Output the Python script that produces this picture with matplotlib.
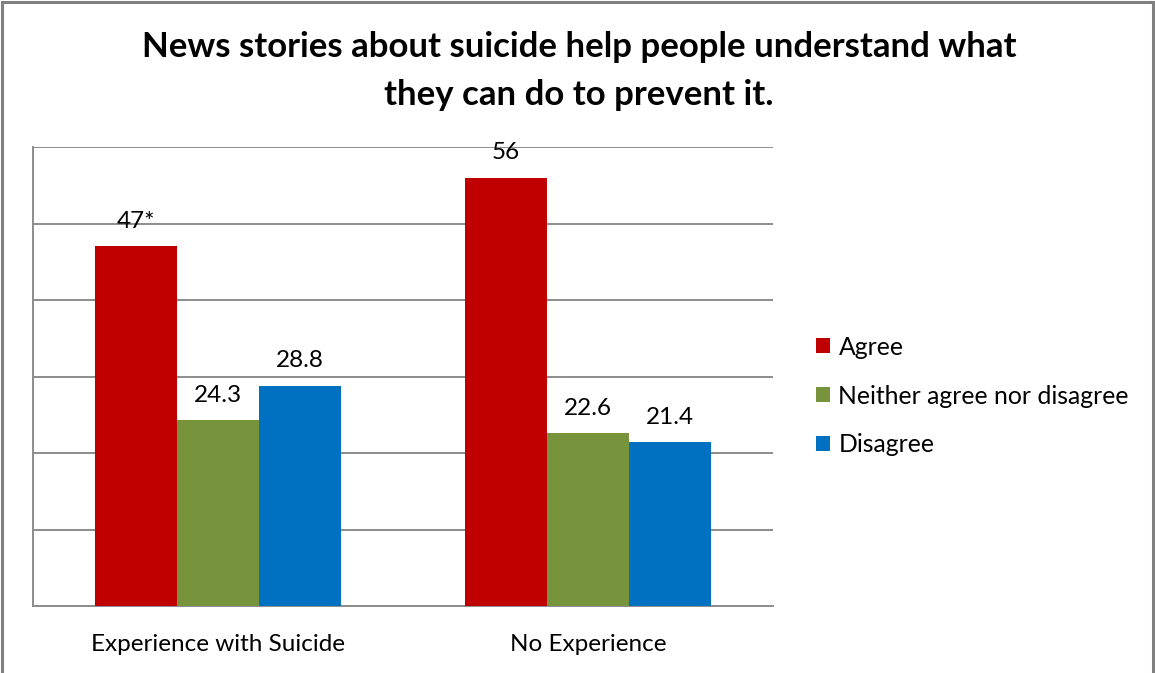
import matplotlib
matplotlib.use("Agg")
import matplotlib.pyplot as plt
from matplotlib.patches import Rectangle, Patch
import numpy as np

plt.rcParams['font.family'] = ['Lato', 'DejaVu Sans']

categories = ["Experience with Suicide", "No Experience"]
series_names = ["Agree", "Neither agree nor disagree", "Disagree"]
agree = [47, 56]
neither = [24.3, 22.6]
disagree = [28.8, 21.4]
label_text = [["47*", "56"], ["24.3", "22.6"], ["28.8", "21.4"]]
colors = ["#C00000", "#77933C", "#0070C0"]

W, H = 1155, 673
fig = plt.figure(figsize=(W/100, H/100), dpi=100)
# figure border
fig.patches.append(Rectangle((2/W, -0.01), (1153-2)/W, 1.01 - 2/H, transform=fig.transFigure,
                             fill=False, edgecolor="#808080", linewidth=2.2))

ax = fig.add_axes([33/W, 1-606/H, (773-33)/W, (606-147)/H])
x = np.arange(len(categories))
bw = 0.222
vals = [agree, neither, disagree]
for i, (v, c, name) in enumerate(zip(vals, colors, series_names)):
    pos = x + (i-1)*bw
    ax.bar(pos, v, width=bw, color=c, label=name, zorder=3)
    for p, val, t in zip(pos, v, label_text[i]):
        ax.text(p, val + 1.9, t, ha="center", va="bottom", fontsize=17.5, color="black")

ax.set_xlim(-0.5, 1.5)
ax.set_ylim(0, 60)
ax.set_yticks(np.arange(0, 61, 10))
ax.set_yticklabels([])
ax.tick_params(axis='y', length=0)
ax.tick_params(axis='x', length=0, pad=20, labelsize=17.5)
ax.set_xticks(x)
ax.set_xticklabels(categories)
ax.grid(axis='y', color="#8c8c8c", linewidth=1.4, zorder=0)
for s in ["top", "right"]:
    ax.spines[s].set_visible(False)
ax.spines["left"].set_color("#8c8c8c")
ax.spines["left"].set_linewidth(1.4)
ax.spines["bottom"].set_color("#8c8c8c")
ax.spines["bottom"].set_linewidth(1.4)

fig.text(579/W, 1-47/H, "News stories about suicide help people understand what",
         ha="center", va="center", fontsize=25, fontweight="bold")
fig.text(579/W, 1-95/H, "they can do to prevent it.",
         ha="center", va="center", fontsize=25, fontweight="bold")

handles = [Patch(facecolor=c, label=n) for c, n in zip(colors, series_names)]
fig.legend(handles=handles, loc="center left", bbox_to_anchor=(794/W, 1-396/H),
           frameon=False, fontsize=17.8, handlelength=0.55, handleheight=0.55,
           handletextpad=0.35, labelspacing=1.05)

fig.savefig("out.png", dpi=100)
